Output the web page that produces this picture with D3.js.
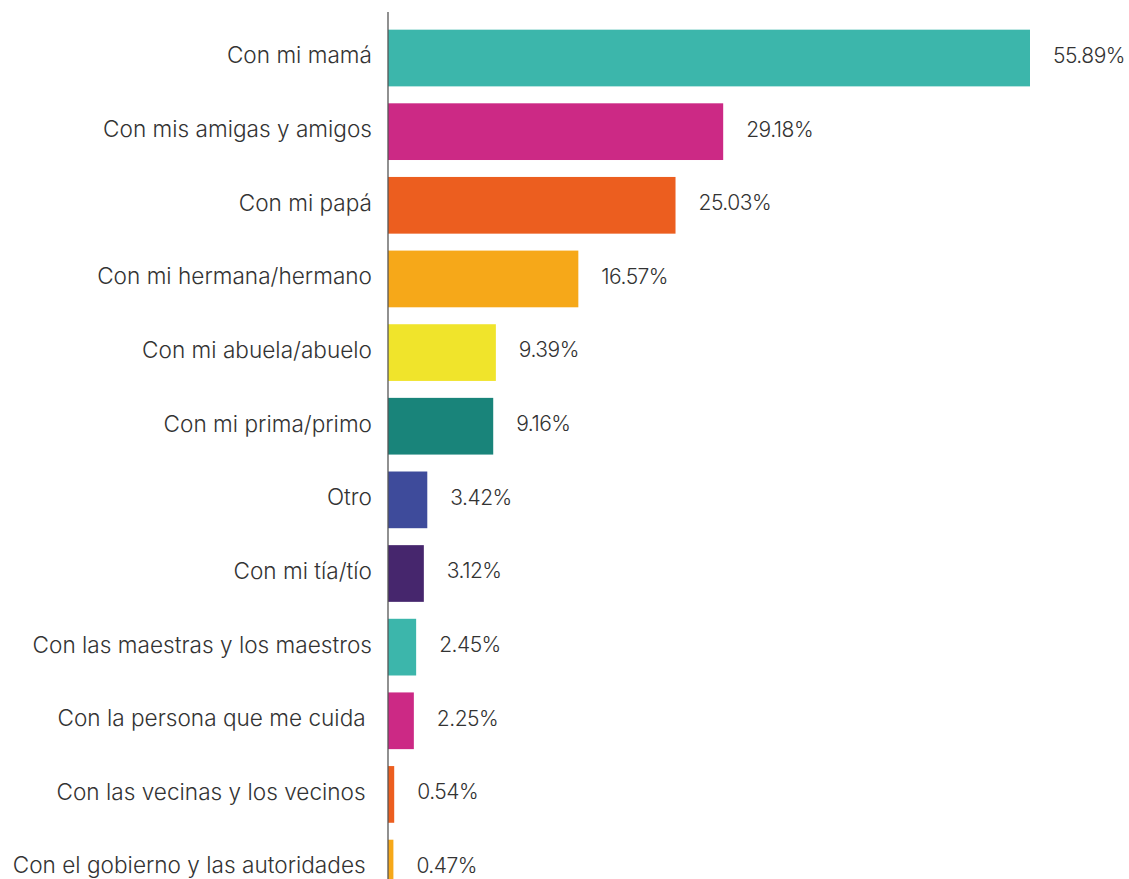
<!DOCTYPE html>
<html>
<head>
<meta charset="utf-8">
<script src="https://cdn.jsdelivr.net/npm/d3@7"></script>
<style>
  html, body { margin: 0; padding: 0; background: #fff; }
  svg { display: block; }
  text { font-family: Inter, "Open Sans", sans-serif; font-weight: 300; fill: #333; }
</style>
</head>
<body>
<svg id="chart" width="1129" height="879"></svg>
<script>
/*global d3*/

// categories, top to bottom (trailing spaces are in the source labels)
var categories = [
    "Con mi mamá",
    "Con mis amigas y amigos",
    "Con mi papá",
    "Con mi hermana/hermano",
    "Con mi abuela/abuelo",
    "Con mi prima/primo",
    "Otro",
    "Con mi tía/tío",
    "Con las maestras y los maestros",
    "Con la persona que me cuida ",
    "Con las vecinas y los vecinos ",
    "Con el gobierno y las autoridades "
];
var values = [55.89, 29.18, 25.03, 16.57, 9.39, 9.16, 3.42, 3.12, 2.45, 2.25, 0.54, 0.47];
var barColors = ["#3cb6ab", "#cc2985", "#ec5e1f", "#f6a819", "#f0e42b", "#19847a",
                 "#3e4b9b", "#46266d", "#3cb6ab", "#cc2985", "#ec5e1f", "#f6a819"];

var svg = d3.select("#chart");
var width = +svg.attr("width");
var height = +svg.attr("height");
var axisX = 388;

var x = d3.scaleLinear()
    .domain([0, 55.89])
    .range([axisX, 1030]);

var y = d3.scaleBand()
    .domain(categories)
    .range([21.2, 21.2 + 12 * 73.64])
    .paddingInner(0.23)
    .paddingOuter(0.115);

var rows = svg.append("g").attr("class", "rows")
    .selectAll("g")
    .data(categories)
    .enter().append("g");

rows.append("rect")
    .attr("x", x(0))
    .attr("y", function(d) { return y(d); })
    .attr("width", function(d, i) { return x(values[i]) - x(0); })
    .attr("height", y.bandwidth())
    .attr("fill", function(d, i) { return barColors[i]; });

rows.append("text")
    .attr("x", axisX - 16)
    .attr("y", function(d) { return y(d) + y.bandwidth() / 2 - 2.5; })
    .attr("dy", "0.35em")
    .style("text-anchor", "end")
    .style("white-space", "pre")
    .style("font-size", "22.6px")
    .text(function(d) { return d; });

rows.append("text")
    .attr("x", function(d, i) { return x(values[i]) + 23; })
    .attr("y", function(d) { return y(d) + y.bandwidth() / 2 - 2.5; })
    .attr("dy", "0.35em")
    .style("font-size", "21px")
    .style("letter-spacing", "-0.5px")
    .text(function(d, i) { return values[i].toFixed(2) + "%"; });

// vertical axis line
svg.append("line")
    .attr("x1", axisX).attr("x2", axisX)
    .attr("y1", 12).attr("y2", height)
    .attr("stroke", "#555")
    .attr("stroke-width", 1.3);
</script>
</body>
</html>
